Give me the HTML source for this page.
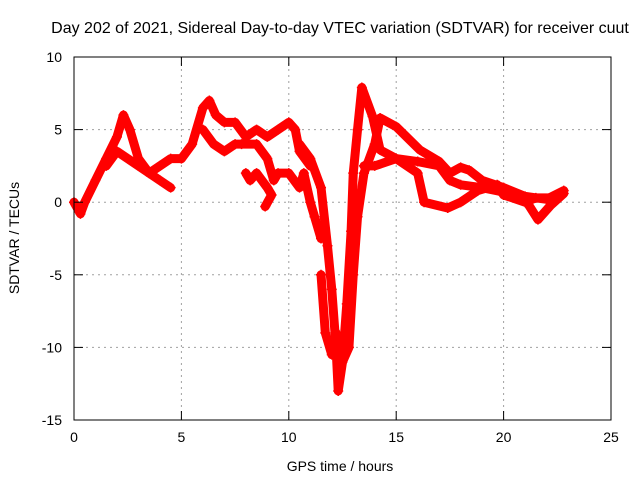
<!DOCTYPE html>
<html><head><meta charset="utf-8"><style>
body{margin:0;background:#fff}
svg{display:block;font-family:"Liberation Sans",sans-serif}
</style></head><body>
<svg id="chart" width="640" height="480" viewBox="0 0 640 480">
<text x="340" y="33" font-size="16" text-anchor="middle">Day 202 of 2021, Sidereal Day-to-day VTEC variation (SDTVAR) for receiver cuut</text>
<g id="grid"></g>
<g id="series"></g>
<rect x="74" y="57" width="537" height="363" fill="none" stroke="#000"/>
<g id="ticks"></g>
<text x="340" y="471" font-size="14" text-anchor="middle">GPS time / hours</text>
<text x="19" y="238" font-size="14" text-anchor="middle" transform="rotate(-90 19 238)">SDTVAR / TECUs</text>
</svg>
<script>
const xTicks=[0,5,10,15,20,25];
const yTicks=[-15,-10,-5,0,5,10];
const s1t=[0,0.3,0.5,1,1.5,2,2.3,2.6,3,3.5,4,4.5];
const s1v=[0,-0.8,0,1.5,3,4.5,6,5,3,2,1.5,1];
const s2t=[1.5,2,2.5,3,3.5,4,4.5,5,5.5,6,6.3,6.6,7,7.5,8,8.5,9,9.5,10,10.3,10.5,11];
const s2v=[2.5,3.5,3,2.5,2,2.5,3,3,4,6.5,7,6,5.5,5.5,4.5,5,4.5,5,5.5,5,3.5,2.5];
const s3t=[10.5,11,11.5,11.8,12,12.2,12.3,12.5,12.7,12.9,13,13.2,13.4,13.9,14.25,15,16,17,17.5,18,19,20,21,21.6,22.2,22.8];
const s3v=[4,3,1,-3,-6,-10,-13,-11,-7,-2,2,5,7.9,5.9,3.6,3,2.8,2.5,1.5,1.2,1,0.7,0.2,-1.2,-0.2,0.6];
const s4t=[11.5,11.7,12,12.2,12.5,12.8,13,13.2,13.5,14,14.25,15,16.1,17,17.5,18,18.4,19,20,21,22,22.8];
const s4v=[-5,-9,-10.5,-9,-11,-10,-5,-1,2,4,5.8,5.2,3.6,2.8,2,2.4,2.2,1.5,1,0.4,0.2,0.8];
const s5t=[13.5,14,15,16,16.3,17.4,18,18.8,19.7,20,21,21.5,22.5];
const s5v=[2.5,2.5,3,2,0,-0.4,0,0.8,1.2,0.5,0,0.3,0.3];
const s6t=[6,6.5,7,7.5,7.8,8.5,9,9.3,9.5,10,10.5,10.7,11,11.2,11.5];
const s6v=[5,4,3.5,4,4,4,3,1.5,2,2,1,2,0,-1,-2.5];
const s7t=[8,8.2,8.5,9,9.2,8.9];
const s7v=[2,1.5,2,1,0.5,-0.3];
const series=[[s1t,s1v],[s2t,s2v],[s3t,s3v],[s4t,s4v],[s5t,s5v],[s6t,s6v],[s7t,s7v]];
const X=t=>74+t*537/25, Y=v=>57+(10-v)*363/25;
const NS="http://www.w3.org/2000/svg";
const grid=document.getElementById('grid'),ticks=document.getElementById('ticks'),sg=document.getElementById('series');
function mk(tag,at,par){const e=document.createElementNS(NS,tag);for(const k in at)e.setAttribute(k,at[k]);par.appendChild(e);return e;}
xTicks.forEach(t=>{
 if(t>0&&t<25){const g=mk('line',{x1:X(t),x2:X(t),y1:57,y2:420,stroke:'#a0a0a0','stroke-dasharray':'2,4'},grid);
 
 }
 mk('line',{x1:X(t),x2:X(t),y1:420,y2:411,stroke:'#000'},ticks);
 mk('line',{x1:X(t),x2:X(t),y1:57,y2:66,stroke:'#000'},ticks);
 const l=mk('text',{x:X(t),y:442,'font-size':14,'text-anchor':'middle'},ticks);l.textContent=t;
 
 
});
yTicks.forEach(v=>{
 if(v>-15&&v<10){const g=mk('line',{x1:74,x2:611,y1:Y(v),y2:Y(v),stroke:'#a0a0a0','stroke-dasharray':'2,4'},grid);
 
 }
 mk('line',{x1:74,x2:83,y1:Y(v),y2:Y(v),stroke:'#000'},ticks);
 mk('line',{x1:611,x2:602,y1:Y(v),y2:Y(v),stroke:'#000'},ticks);
 const l=mk('text',{x:62,y:Y(v)+5,'font-size':14,'text-anchor':'end'},ticks);l.textContent=v;
 
 
});
series.forEach(([ts,vs],i)=>{
 const pts=ts.map((t,j)=>X(t)+','+Y(vs[j])).join(' ');
 const p=mk('polyline',{points:pts,fill:'none',stroke:'#ff0000','stroke-width':9,'stroke-linejoin':'round','stroke-linecap':'round'},sg);
 
 
 ts.forEach((t,j)=>{const x=X(t),y=Y(vs[j]);
  const m=mk('path',{d:`M${x-5},${y}H${x+5}M${x},${y-5}V${y+5}`,stroke:'#ff0000','stroke-width':1.5},sg);
  
  });
});
</script>
</body></html>
